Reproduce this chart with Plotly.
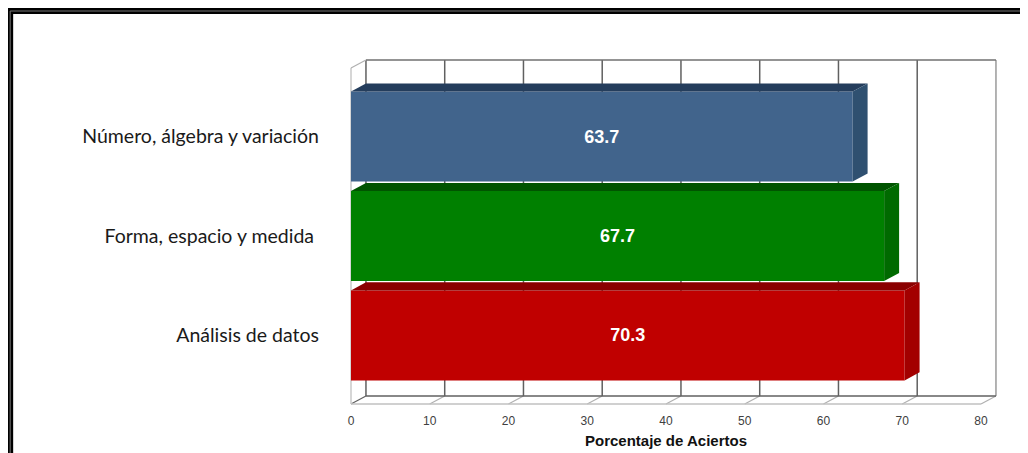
import plotly.graph_objects as go

# datos (de abajo hacia arriba)
categorias = ["Análisis de datos", "Forma, espacio y medida\u00a0", "Número, álgebra y variación"]
aciertos = [70.3, 67.7, 63.7]
posiciones = [0, 1, 2]
ticks_x = [0, 10, 20, 30, 40, 50, 60, 70, 80]
X_MAX = 80

# colores de cada barra: frente, tapa, lado
col_frente = ["#C00000", "#008000", "#41648C"]
col_tapa = ["#8A0000", "#005400", "#243D5C"]
col_lado = ["#A30000", "#006A00", "#2F5070"]

# profundidad del efecto 3D
DX = 1.9      # en unidades del eje x
DY = 0.081    # en unidades del eje y
DXP = DX / X_MAX  # en fracción del papel
DYP = 0.024
ANCHO = 0.905

fig = go.Figure()

# cara frontal
fig.add_trace(go.Bar(
    y=posiciones, x=aciertos, orientation="h", width=ANCHO,
    marker=dict(color=col_frente, line=dict(width=0)),
    text=aciertos, texttemplate="%{x:.1f}", textposition="inside",
    insidetextanchor="middle", textangle=0,
    textfont=dict(family="Liberation Sans", size=18, color="white", weight="bold"),
    hoverinfo="skip", showlegend=False,
))

# tapa y lado de cada barra
for p, v, ct, cl in zip(posiciones, aciertos, col_tapa, col_lado):
    top = p + ANCHO / 2
    bot = p - ANCHO / 2
    fig.add_trace(go.Scatter(
        x=[0, v, v + DX, DX, 0], y=[top, top, top + DY, top + DY, top],
        mode="lines", fill="toself", fillcolor=ct, line=dict(width=0),
        hoverinfo="skip", showlegend=False))
    fig.add_trace(go.Scatter(
        x=[v, v + DX, v + DX, v, v], y=[bot, bot + DY, top + DY, top, bot],
        mode="lines", fill="toself", fillcolor=cl, line=dict(width=0),
        hoverinfo="skip", showlegend=False))

shapes = []
# pared del fondo: líneas de cuadrícula y diagonales del piso
for t in ticks_x:
    xp = t / X_MAX
    color = "#9A9A9A" if t == ticks_x[-1] else "#606060"
    shapes.append(dict(type="line", xref="paper", yref="paper", x0=xp + DXP, x1=xp + DXP,
                       y0=DYP, y1=1 + DYP, line=dict(color=color, width=1.5), layer="below"))
    shapes.append(dict(type="line", xref="paper", yref="paper", x0=xp, x1=xp + DXP,
                       y0=0, y1=DYP, line=dict(color="#606060" if t == 0 else "#B0B0B0", width=1.2),
                       layer="below"))
# bordes superior e inferior del fondo
shapes.append(dict(type="line", xref="paper", yref="paper", x0=DXP, x1=1 + DXP,
                   y0=1 + DYP, y1=1 + DYP, line=dict(color="#707070", width=1.5), layer="below"))
shapes.append(dict(type="line", xref="paper", yref="paper", x0=DXP, x1=1 + DXP,
                   y0=DYP, y1=DYP, line=dict(color="#606060", width=1.5), layer="below"))
# borde frontal del piso y pared izquierda
shapes.append(dict(type="line", xref="paper", yref="paper", x0=0, x1=1,
                   y0=0, y1=0, line=dict(color="#C0C0C0", width=1.5), layer="below"))
shapes.append(dict(type="line", xref="paper", yref="paper", x0=0, x1=0,
                   y0=0, y1=1, line=dict(color="#C8C8C8", width=1.5), layer="below"))
shapes.append(dict(type="line", xref="paper", yref="paper", x0=0, x1=DXP,
                   y0=1, y1=1 + DYP, line=dict(color="#B0B0B0", width=1.2), layer="below"))
# marco exterior
shapes.append(dict(type="rect", xref="paper", yref="paper", x0=-0.541, x1=1.12,
                   y0=-0.2, y1=1.1696, line=dict(color="black", width=6)))
shapes.append(dict(type="rect", xref="paper", yref="paper", x0=-0.541, x1=1.12,
                   y0=-0.2, y1=1.1696, line=dict(color="#777777", width=1)))

fig.update_layout(
    width=1028, height=453,
    margin=dict(l=343, r=55, t=60, b=57),
    paper_bgcolor="white", plot_bgcolor="rgba(0,0,0,0)",
    shapes=shapes,
    xaxis=dict(range=[0, X_MAX], tickvals=ticks_x, showgrid=False, zeroline=False,
               showline=False, ticks="outside", ticklen=6, tickcolor="rgba(0,0,0,0)",
               tickfont=dict(family="Liberation Sans", size=12, color="#404040"),
               title=dict(text="<b>Porcentaje de Aciertos</b>", standoff=8,
                          font=dict(family="Liberation Sans", size=15, color="#111111"))),
    yaxis=dict(range=[-0.69, 2.69], tickvals=posiciones, ticktext=categorias,
               showgrid=False, zeroline=False, showline=False, ticks="",
               ticklabelstandoff=31,
               tickfont=dict(family="Lato", size=19.5, color="#1A1A1A")),
)

fig.write_html("out.html")
